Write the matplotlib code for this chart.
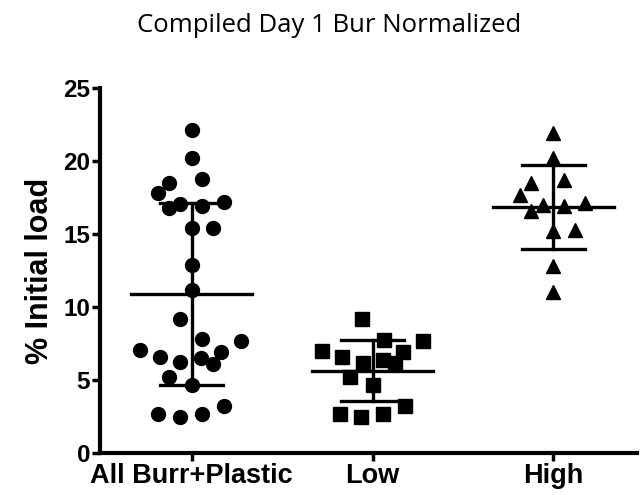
import numpy as np
import matplotlib
matplotlib.use("Agg")
import matplotlib.pyplot as plt

categories = ["All Burr+Plastic", "Low", "High"]

low_values = [9.2, 7.74, 7.7, 7.0, 6.6, 6.9, 6.15, 6.4, 6.15, 5.2, 4.66, 3.2, 2.7, 2.45, 2.67]
low_jitter = [-0.057, 0.062, 0.28, -0.278, -0.167, 0.17, -0.054, 0.059, 0.127, -0.122, 0.0, 0.182, -0.18, -0.061, 0.059]

high_values = [21.9, 20.2, 18.7, 18.5, 17.7, 17.0, 16.9, 17.15, 16.6, 15.2, 15.3, 12.8, 11.05]
high_jitter = [0.0, 0.0, 0.061, -0.123, -0.184, -0.059, 0.061, 0.177, -0.123, 0.0, 0.12, 0.0, 0.0]

all_values = [22.1, 20.2, 18.5, 18.8, 17.8, 16.8, 17.05, 16.9, 17.2, 15.4, 15.4, 12.9, 11.16,
              9.2, 7.8, 7.67, 7.05, 6.6, 6.2, 6.5, 6.9, 6.1, 5.2, 4.66, 2.7, 2.45, 2.7, 3.2]
all_jitter = [0.0, 0.0, -0.127, 0.057, -0.186, -0.127, -0.066, 0.057, 0.177, 0.0, 0.118, 0.0, 0.0,
              -0.066, 0.057, 0.275, -0.287, -0.177, -0.066, 0.054, 0.164, 0.118, -0.127, 0.0,
              -0.186, -0.066, 0.057, 0.177]

yticks = [0, 5, 10, 15, 20, 25]
title = "Compiled Day 1 Bur Normalized"
ylabel = "% Initial load"

groups = [(all_values, all_jitter, "o", 10),
          (low_values, low_jitter, "s", 10.5),
          (high_values, high_jitter, "^", 10)]

fig = plt.figure(figsize=(6.4, 4.95), dpi=100)
ax = fig.add_axes([0.156, 0.085, 0.84, 0.737])

for i, (vals, jit, mk, ms) in enumerate(groups):
    v = np.array(vals)
    x = i + np.array(jit)
    ax.plot(x, v, linestyle="none", marker=mk, markersize=ms, color="black", zorder=3)
    m = v.mean()
    sd = v.std(ddof=1)
    ax.plot([i - 0.333, i + 0.333], [m, m], color="black", lw=2.4, zorder=4)
    ax.plot([i, i], [m - sd, m + sd], color="black", lw=2.4, zorder=4)
    for y in (m - sd, m + sd):
        ax.plot([i - 0.173, i + 0.173], [y, y], color="black", lw=2.4, zorder=4)

ax.set_xlim(-0.508, 2.465)
ax.set_ylim(0, 25)
ax.set_yticks(yticks)
ax.set_xticks(range(len(categories)))
ax.set_xticklabels(categories)
for s in ("top", "right"):
    ax.spines[s].set_visible(False)
for s in ("left", "bottom"):
    ax.spines[s].set_linewidth(3)
ax.tick_params(axis="both", direction="out", length=6, width=2.5, pad=1)
for lab in ax.get_xticklabels():
    lab.set_fontfamily("Liberation Sans")
    lab.set_fontweight("bold")
    lab.set_fontsize(19.5)
for lab in ax.get_yticklabels():
    lab.set_fontfamily("Liberation Sans")
    lab.set_fontweight("bold")
    lab.set_fontsize(17.5)
ax.set_ylabel(ylabel, fontfamily="Liberation Sans", fontweight="bold", fontsize=22, labelpad=6)
fig.text(0.515, 0.935, title, ha="center", va="baseline", fontfamily="Open Sans", fontsize=18.5)
fig.savefig("out.png", dpi=100)
